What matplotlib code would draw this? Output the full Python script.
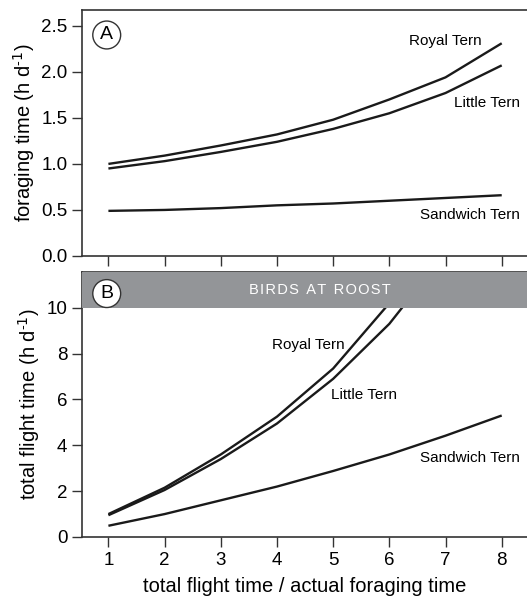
import matplotlib.pyplot as plt
import numpy as np

plt.rcParams['font.family'] = ['Liberation Sans', 'DejaVu Sans']

# ratio total flight time / actual foraging time
ratio = [1, 2, 3, 4, 5, 6, 7, 8]

# panel A: foraging time (h/d)
royal_forage = [1.00, 1.09, 1.20, 1.32, 1.48, 1.70, 1.94, 2.31]
little_forage = [0.95, 1.03, 1.13, 1.24, 1.38, 1.55, 1.77, 2.07]
sandwich_forage = [0.49, 0.50, 0.52, 0.55, 0.57, 0.60, 0.63, 0.66]

# panel B: total flight time (h/d)
royal_flight = [1.0, 2.15, 3.6, 5.25, 7.35, 10.2, 13.6, 18.5]
little_flight = [0.95, 2.05, 3.4, 4.95, 6.9, 9.3, 12.4, 16.5]
sandwich_flight = [0.49, 1.0, 1.6, 2.2, 2.88, 3.6, 4.42, 5.3]

roost_level = 10

line_kw = dict(color='#1a1a1a', lw=1.7, solid_capstyle='butt')
spine_col = '#333333'
gray = '#939598'
unit = 'h d$^{\\mathregular{\u2010}1}$'

fig = plt.figure(figsize=(5.27, 5.96), dpi=100)
axA = fig.add_axes([0.1556, 0.5705, 0.8444, 0.4125])
axB = fig.add_axes([0.1556, 0.099, 0.8444, 0.4446])

for ax in (axA, axB):
    ax.spines['right'].set_visible(False)
    for s in ('left', 'bottom', 'top'):
        ax.spines[s].set_color(spine_col)
        ax.spines[s].set_linewidth(1.2)
    ax.tick_params(direction='out', length=7.5, width=1.0, color=spine_col,
                   labelsize=13.5, pad=3)
    ax.set_xlim(0.53, 8.45)
    ax.set_xticks(ratio)

# Panel A
axA.plot(ratio, royal_forage, **line_kw)
axA.plot(ratio, little_forage, **line_kw)
axA.plot(ratio, sandwich_forage, **line_kw)
axA.set_ylim(0, 2.67)
axA.set_yticks([0.0, 0.5, 1.0, 1.5, 2.0, 2.5])
axA.set_yticklabels(['0.0', '0.5', '1.0', '1.5', '2.0', '2.5'])
axA.set_xticklabels([])
axA.set_ylabel('foraging time (' + unit + ')', fontsize=14.5, labelpad=3)
axA.text(6.35, 2.33, 'Royal Tern', fontsize=11, ha='left', va='center')
axA.text(7.15, 1.66, 'Little Tern', fontsize=11, ha='left', va='center')
axA.text(6.55, 0.445, 'Sandwich Tern', fontsize=11, ha='left', va='center')
axA.text(0.97, 2.40, 'A', fontsize=14, ha='center', va='center',
         bbox=dict(boxstyle='circle,pad=0.28', fc='white', ec=spine_col, lw=1.0))

# Panel B
axB.plot(ratio, royal_flight, **line_kw)
axB.plot(ratio, little_flight, **line_kw)
axB.plot(ratio, sandwich_flight, **line_kw)
axB.set_ylim(0, 11.56)
axB.axhspan(roost_level, 11.56, color=gray, zorder=3, lw=0)
axB.set_yticks([0, 2, 4, 6, 8, 10])
axB.set_xlabel('total flight time / actual foraging time', fontsize=14.5, labelpad=6)
axB.set_ylabel('total flight time (' + unit + ')', fontsize=14.5, labelpad=3)
axB.text(4.77, 10.78, 'B I R D S   A T   R O O S T'.replace('   ', '\u2002').replace(' ', '\u200a'),
         fontsize=10.5, color='white', ha='center', va='center', zorder=4)
axB.text(3.92, 8.37, 'Royal Tern', fontsize=11, ha='left', va='center')
axB.text(4.97, 6.19, 'Little Tern', fontsize=11, ha='left', va='center')
axB.text(6.55, 3.44, 'Sandwich Tern', fontsize=11, ha='left', va='center')
axB.text(0.97, 10.62, 'B', fontsize=14, ha='center', va='center', zorder=5,
         bbox=dict(boxstyle='circle,pad=0.28', fc='white', ec=spine_col, lw=1.0))

plt.savefig('out.png', dpi=100)
